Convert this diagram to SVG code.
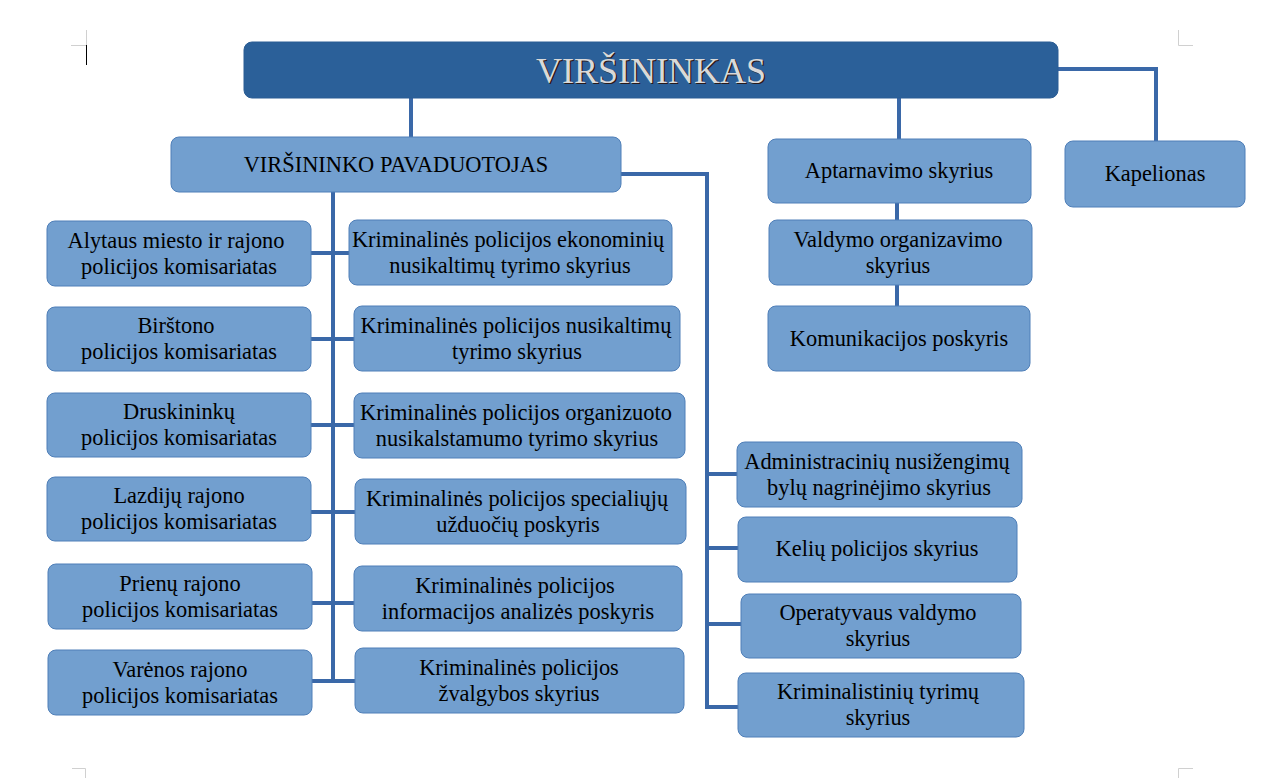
<svg xmlns="http://www.w3.org/2000/svg" width="1262" height="778" viewBox="0 0 1262 778">
<style>
.box{fill:#729fcf;stroke:#4f7fb8;stroke-width:1}
.t{font-family:"Liberation Serif","Times New Roman",serif;font-size:22.4px;fill:#000;text-anchor:middle}
.c{fill:none;stroke:#3a68a8;stroke-width:4}
.m{fill:none;stroke:#d0d0d0;stroke-width:1}
.h{font-family:"Liberation Serif","Times New Roman",serif;font-size:36px;text-anchor:middle}
</style>
<rect width="1262" height="778" fill="#fff"/>
<g id="marks">
<path class="m" d="M71 45.5H86.5V30M1178.5 30V45.5H1193M1178.5 778V768.5H1193M72 768.5H85.5V778"/>
<path d="M86.5 45V65" stroke="#000" stroke-width="1"/>
</g>
<g id="connectors">
<path class="c" d="M411 98V137"/>
<path class="c" d="M899 98V139"/>
<path class="c" d="M1058 69H1156V141"/>
<path class="c" d="M333 192V683"/>
<path class="c" d="M311 253H349M311 339H354M311 425H354M311 512H355M312 603H354M312 681H355"/>
<path class="c" d="M621 174H707V707"/>
<path class="c" d="M705 474H737M705 548H738M705 624H741M705 707H738"/>
<path class="c" d="M897 203V220M897 285V306"/>
</g>
<g id="virsininkas">
<rect x="244" y="42" width="814" height="56" rx="8" fill="#2b6099" stroke="#2b5d94"/>
<text class="h" x="652.2" y="84.2" fill="#2a1a1a">VIRŠININKAS</text>
<text class="h" x="651" y="83" fill="#d9d9d9">VIRŠININKAS</text>
</g>
<g id="pavaduotojas"><rect class="box" x="171" y="137" width="450" height="55" rx="8"/><text class="t" x="396" y="172">VIRŠININKO PAVADUOTOJAS</text></g>
<g id="alytaus"><rect class="box" x="47" y="221" width="264" height="65" rx="8"/><text class="t" x="176" y="248">Alytaus miesto ir rajono</text><text class="t" x="179" y="274">policijos komisariatas</text></g>
<g id="birstono"><rect class="box" x="47" y="307" width="264" height="64" rx="8"/><text class="t" x="176" y="333">Birštono</text><text class="t" x="179" y="359">policijos komisariatas</text></g>
<g id="druskininku"><rect class="box" x="47" y="393" width="264" height="64" rx="8"/><text class="t" x="179" y="419">Druskininkų</text><text class="t" x="179" y="445">policijos komisariatas</text></g>
<g id="lazdiju"><rect class="box" x="47" y="477" width="264" height="64" rx="8"/><text class="t" x="179" y="503">Lazdijų rajono</text><text class="t" x="179" y="529">policijos komisariatas</text></g>
<g id="prienu"><rect class="box" x="48" y="564" width="264" height="65" rx="8"/><text class="t" x="180" y="591">Prienų rajono</text><text class="t" x="180" y="617">policijos komisariatas</text></g>
<g id="varenos"><rect class="box" x="48" y="650" width="264" height="65" rx="8"/><text class="t" x="180" y="677">Varėnos rajono</text><text class="t" x="180" y="703">policijos komisariatas</text></g>
<g id="ekonominiu"><rect class="box" x="349" y="220" width="323" height="65" rx="8"/><text class="t" x="508" y="247">Kriminalinės policijos ekonominių</text><text class="t" x="510" y="273">nusikaltimų tyrimo skyrius</text></g>
<g id="nusikaltimu"><rect class="box" x="354" y="306" width="326" height="65" rx="8"/><text class="t" x="516" y="333">Kriminalinės policijos nusikaltimų</text><text class="t" x="517" y="359">tyrimo skyrius</text></g>
<g id="organizuoto"><rect class="box" x="354" y="393" width="331" height="65" rx="8"/><text class="t" x="516" y="420">Kriminalinės policijos organizuoto</text><text class="t" x="517" y="446">nusikalstamumo tyrimo skyrius</text></g>
<g id="specialiuju"><rect class="box" x="355" y="479" width="331" height="65" rx="8"/><text class="t" x="517" y="506">Kriminalinės policijos specialiųjų</text><text class="t" x="518" y="532">užduočių poskyris</text></g>
<g id="informacijos"><rect class="box" x="354" y="566" width="328" height="65" rx="8"/><text class="t" x="515" y="593">Kriminalinės policijos</text><text class="t" x="518" y="619">informacijos analizės poskyris</text></g>
<g id="zvalgybos"><rect class="box" x="355" y="648" width="329" height="65" rx="8"/><text class="t" x="519" y="675">Kriminalinės policijos</text><text class="t" x="519" y="701">žvalgybos skyrius</text></g>
<g id="aptarnavimo"><rect class="box" x="768" y="139" width="263" height="64" rx="8"/><text class="t" x="899" y="178">Aptarnavimo skyrius</text></g>
<g id="valdymo"><rect class="box" x="769" y="220" width="263" height="65" rx="8"/><text class="t" x="898" y="247">Valdymo organizavimo</text><text class="t" x="898" y="273">skyrius</text></g>
<g id="komunikacijos"><rect class="box" x="768" y="306" width="262" height="65" rx="8"/><text class="t" x="899" y="346">Komunikacijos poskyris</text></g>
<g id="kapelionas"><rect class="box" x="1065" y="141" width="180" height="66" rx="8"/><text class="t" x="1155" y="181">Kapelionas</text></g>
<g id="administraciniu"><rect class="box" x="737" y="442" width="285" height="65" rx="8"/><text class="t" x="877" y="469">Administracinių nusižengimų</text><text class="t" x="879" y="495">bylų nagrinėjimo skyrius</text></g>
<g id="keliu"><rect class="box" x="738" y="517" width="279" height="65" rx="8"/><text class="t" x="877" y="556">Kelių policijos skyrius</text></g>
<g id="operatyvaus"><rect class="box" x="741" y="594" width="280" height="64" rx="8"/><text class="t" x="878" y="620">Operatyvaus valdymo</text><text class="t" x="878" y="646">skyrius</text></g>
<g id="kriminalistiniu"><rect class="box" x="738" y="673" width="286" height="64" rx="8"/><text class="t" x="878" y="699">Kriminalistinių tyrimų</text><text class="t" x="878" y="725">skyrius</text></g>
</svg>
